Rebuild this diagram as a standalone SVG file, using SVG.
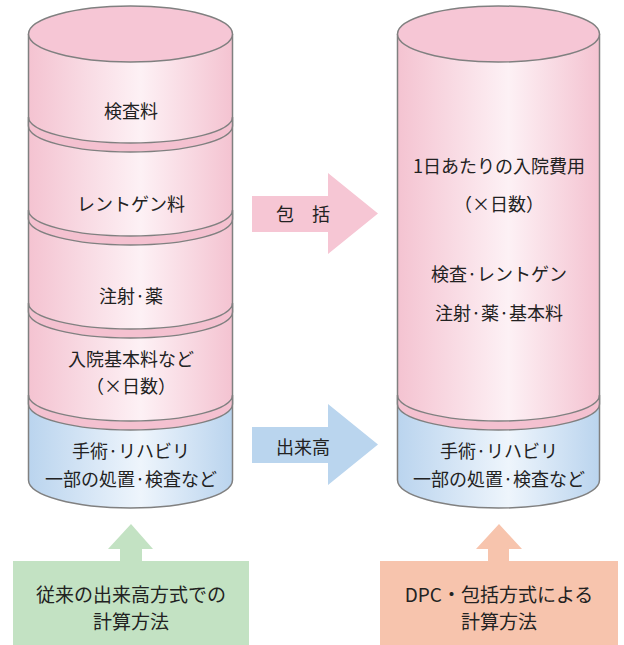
<svg xmlns="http://www.w3.org/2000/svg" width="624" height="645" viewBox="0 0 624 645">
  <defs>
    <linearGradient id="gPink" x1="0" y1="0" x2="1" y2="0">
      <stop offset="0" stop-color="#f4c3d1"/>
      <stop offset="0.55" stop-color="#fdf1f5"/>
      <stop offset="1" stop-color="#f4c3d1"/>
    </linearGradient>
    <linearGradient id="gBlue" x1="0" y1="0" x2="1" y2="0">
      <stop offset="0" stop-color="#bad4ee"/>
      <stop offset="0.55" stop-color="#eef5fc"/>
      <stop offset="1" stop-color="#bad4ee"/>
    </linearGradient>
  </defs>
  <style>
    .pk { fill: url(#gPink); stroke: none; }
    .bl { fill: url(#gBlue); stroke: none; }
    .band { fill: #f4c1d0; stroke: #808080; stroke-width: 1.5; }
    .top { fill: #f6c6d5; stroke: #808080; stroke-width: 1.5; }
    .edge { fill: none; stroke: #808080; stroke-width: 1.5; }
    .t { font-family: "Noto Sans CJK JP", "Noto Sans", sans-serif; font-size: 18px; fill: #222; text-anchor: middle; dominant-baseline: central; }
    .tb { font-family: "Noto Sans CJK JP", "Noto Sans", sans-serif; font-size: 19px; fill: #222; text-anchor: middle; dominant-baseline: central; }
  </style>

  <!-- Left cylinder -->
  <g id="left-cylinder">
    <path class="pk" d="M28.5,34 L28.5,117 A102,26 0 0 0 232.5,117 L232.5,34 Z"/>
    <path class="pk" d="M28.5,117 A102,26 0 0 0 232.5,117 L232.5,210 A102,26 0 0 1 28.5,210 Z"/>
    <path class="pk" d="M28.5,210 A102,26 0 0 0 232.5,210 L232.5,303 A102,26 0 0 1 28.5,303 Z"/>
    <path class="pk" d="M28.5,303 A102,26 0 0 0 232.5,303 L232.5,395 A102,26 0 0 1 28.5,395 Z"/>
    <path class="bl" d="M28.5,395 A102,26 0 0 0 232.5,395 L232.5,480 A102,28 0 0 1 28.5,480 Z"/>
    <path class="edge" d="M28.5,34 L28.5,480 A102,28 0 0 0 232.5,480 L232.5,34"/>
    <path class="band" d="M28.5,117 A102,26 0 0 0 232.5,117 L232.5,126 A102,26 0 0 1 28.5,126 Z"/>
    <path class="band" d="M28.5,210 A102,26 0 0 0 232.5,210 L232.5,219 A102,26 0 0 1 28.5,219 Z"/>
    <path class="band" d="M28.5,303 A102,26 0 0 0 232.5,303 L232.5,312 A102,26 0 0 1 28.5,312 Z"/>
    <path class="band" d="M28.5,395 A102,26 0 0 0 232.5,395 L232.5,404 A102,26 0 0 1 28.5,404 Z"/>
    <ellipse class="top" cx="130.5" cy="34" rx="102" ry="28"/>
  </g>
  <g id="left-labels">
    <text class="t" x="131" y="110">検査料</text>
    <text class="t" x="131" y="203">レントゲン料</text>
    <text class="t" x="131" y="295">注射·薬</text>
    <text class="t" x="131" y="358">入院基本料など</text>
    <text class="t" x="131" y="385">（×日数）</text>
    <text class="t" x="131" y="450">手術·リハビリ</text>
    <text class="t" x="131" y="478">一部の処置·検査など</text>
  </g>

  <!-- Right cylinder -->
  <g id="right-cylinder">
    <path class="pk" d="M397.5,34 L397.5,395 A101,26 0 0 0 599.5,395 L599.5,34 Z"/>
    <path class="bl" d="M397.5,395 A101,26 0 0 0 599.5,395 L599.5,480 A101,28 0 0 1 397.5,480 Z"/>
    <path class="edge" d="M397.5,34 L397.5,480 A101,28 0 0 0 599.5,480 L599.5,34"/>
    <path class="band" d="M397.5,395 A101,26 0 0 0 599.5,395 L599.5,404 A101,26 0 0 1 397.5,404 Z"/>
    <ellipse class="top" cx="498.5" cy="34" rx="101" ry="28"/>
  </g>
  <g id="right-labels">
    <text class="t" x="499" y="165">1日あたりの入院費用</text>
    <text class="t" x="499" y="203">（×日数）</text>
    <text class="t" x="499" y="273">検査·レントゲン</text>
    <text class="t" x="499" y="312">注射·薬·基本料</text>
    <text class="t" x="499" y="450">手術·リハビリ</text>
    <text class="t" x="499" y="478">一部の処置·検査など</text>
  </g>

  <!-- Connectors (block arrows) -->
  <g id="connectors">
    <polygon fill="#f6c6d4" points="252,196 328,196 328,173 378,213.5 328,254 328,232 252,232"/>
    <polygon fill="#bad5ee" points="252,427 328,427 328,404 378,444.5 328,485 328,463 252,463"/>
    <polygon fill="#c3e2c3" points="120,561 120,549 108,549 131,524 153,549 142,549 142,561"/>
    <polygon fill="#f7c4ad" points="488,561 488,549 476,549 499,524 522,549 509,549 509,561"/>
    <text class="t" x="303" y="213">包　括</text>
    <text class="t" x="303" y="446">出来高</text>
  </g>

  <!-- Bottom boxes -->
  <g id="box-conventional">
    <rect x="13" y="561" width="236" height="84" fill="#c3e2c3"/>
    <text class="tb" x="131" y="593">従来の出来高方式での</text>
    <text class="tb" x="131" y="620">計算方法</text>
  </g>
  <g id="box-dpc">
    <rect x="380" y="561" width="238" height="84" fill="#f7c4ad"/>
    <text class="tb" x="499" y="593">DPC・包括方式による</text>
    <text class="tb" x="499" y="620">計算方法</text>
  </g>
</svg>
